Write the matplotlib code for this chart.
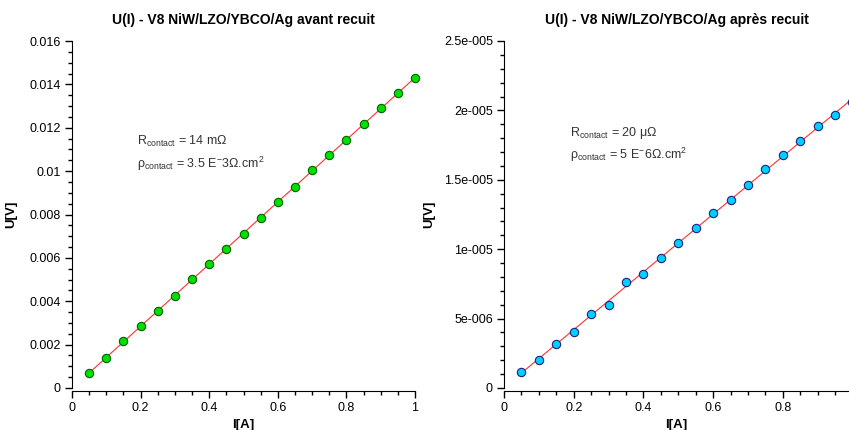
import numpy as np
import matplotlib
matplotlib.use("Agg")
import matplotlib.pyplot as plt
from matplotlib.ticker import MultipleLocator, FuncFormatter

plt.rcParams['font.family'] = ['Liberation Sans', 'DejaVu Sans']
plt.rcParams['mathtext.fontset'] = 'custom'
plt.rcParams['mathtext.rm'] = 'Liberation Sans'
plt.rcParams['mathtext.it'] = 'Liberation Sans'

# courant I (A)
courant = [0.05, 0.10, 0.15, 0.20, 0.25, 0.30, 0.35, 0.40, 0.45, 0.50,
           0.55, 0.60, 0.65, 0.70, 0.75, 0.80, 0.85, 0.90, 0.95, 1.00]

# tension avant recuit (V)
u_avant = [0.00071, 0.00140, 0.00216, 0.00285, 0.00355, 0.00425, 0.00501, 0.00570, 0.00641, 0.00712,
           0.00786, 0.00857, 0.00929, 0.01003, 0.01073, 0.01144, 0.01219, 0.01289, 0.01360, 0.01429]

# tension apres recuit (V)
u_apres = [1.16e-6, 2.05e-6, 3.20e-6, 4.07e-6, 5.32e-6, 5.95e-6, 7.61e-6, 8.21e-6, 9.39e-6, 10.43e-6,
           11.54e-6, 12.64e-6, 13.58e-6, 14.60e-6, 15.75e-6, 16.76e-6, 17.80e-6, 18.91e-6, 19.68e-6, 20.60e-6]

titres = ["U(I) - V8 NiW/LZO/YBCO/Ag avant recuit", "U(I) - V8 NiW/LZO/YBCO/Ag après recuit"]
textes_R = [r"R$_{\mathrm{contact}}$ = 14 m$\Omega$", r"R$_{\mathrm{contact}}$ = 20 $\mu\Omega$"]
textes_rho = [r"$\rho_{\mathrm{contact}}$ = 3.5 E$^{-}$3$\Omega$.cm$^{2}$",
              r"$\rho_{\mathrm{contact}}$ = 5 E$^{-}$6$\Omega$.cm$^{2}$"]


def fmt_g(v, pos):
    return "%g" % v


def fmt_e(v, pos):
    s = "%g" % v
    if "e" in s:
        mant, exp = s.split("e")
        signe = exp[0]
        s = mant + "e" + signe + exp[1:].zfill(3)
    return s


fig = plt.figure(figsize=(8.49, 4.30), dpi=100)
ax1 = fig.add_axes([72 / 849, 1 - 388 / 430, 343 / 849, 347 / 430])
ax2 = fig.add_axes([504 / 849, 1 - 388 / 430, 345 / 849, 347 / 430])


def tracer(ax, y, xmax, ylim, ymaj, ymin, formatter, couleur, bord, titre, tR, trho, pos_txt):
    x = np.array(courant)
    y = np.array(y)
    a, b = np.polyfit(x, y, 1)
    ax.plot(x, a * x + b, color="#ff3030", lw=0.8, zorder=2)
    ax.plot(x, y, "o", ms=6, mfc=couleur, mec=bord, mew=0.8, zorder=3, clip_on=False)
    ax.set_xlim(0, xmax)
    ax.set_ylim(*ylim)
    ax.xaxis.set_major_locator(MultipleLocator(0.2))
    ax.xaxis.set_minor_locator(MultipleLocator(0.05))
    ax.yaxis.set_major_locator(MultipleLocator(ymaj))
    ax.yaxis.set_minor_locator(MultipleLocator(ymin))
    ax.xaxis.set_major_formatter(FuncFormatter(fmt_g))
    ax.yaxis.set_major_formatter(FuncFormatter(formatter))
    for s in ["top", "right"]:
        ax.spines[s].set_visible(False)
    ax.spines["bottom"].set_position(("outward", 2))
    ax.tick_params(which="major", direction="out", length=5, width=1, labelsize=9, pad=3)
    ax.tick_params(which="minor", direction="out", length=3, width=1)
    ax.set_title(titre, fontsize=10, fontweight="bold", pad=12)
    ax.set_xlabel("I[A]", fontsize=9.5, fontweight="bold", labelpad=4)
    ax.set_ylabel("U[V]", fontsize=9.5, fontweight="bold")
    ax.text(pos_txt[0], pos_txt[1], tR, transform=ax.transAxes, fontsize=9, color="#333333")
    ax.text(pos_txt[0], pos_txt[1] - 0.065, trho, transform=ax.transAxes, fontsize=9, color="#333333")


tracer(ax1, u_avant, 1.0, (0, 0.016), 0.002, 0.0005, fmt_g, "#00e000", "#006000",
       titres[0], textes_R[0], textes_rho[0], (0.19, 0.70))
tracer(ax2, u_apres, 0.99, (0, 2.5e-5), 5e-6, 1e-6, fmt_e, "#00d0ff", "#202080",
       titres[1], textes_R[1], textes_rho[1], (0.19, 0.725))
ax1.yaxis.set_label_coords(-0.16, 0.5)
ax2.yaxis.set_label_coords(-0.20, 0.5)

fig.savefig("out.png", dpi=100)
